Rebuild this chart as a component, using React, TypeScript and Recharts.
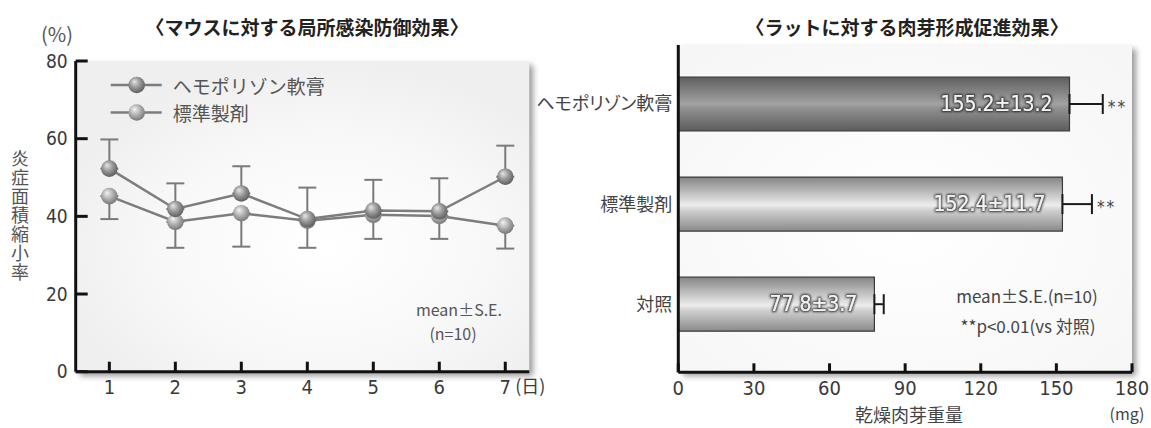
import React from 'react';
import {
  LineChart, Line, XAxis, YAxis, ErrorBar, BarChart, Bar, Cell, LabelList, CartesianGrid,
} from 'recharts';

// ---------- data: left chart ----------
const days = [1, 2, 3, 4, 5, 6, 7];
const hemoMean = [52.3, 41.9, 45.9, 39.3, 41.5, 41.3, 50.2];
const hemoSE = [7.5, 6.6, 7.0, 8.1, 7.9, 8.5, 8.0];
const stdMean = [45.2, 38.6, 40.8, 38.9, 40.4, 40.1, 37.6];
const stdSE = [5.9, 6.7, 8.6, 7.0, 6.2, 5.9, 5.9];
const seriesNames = ['ヘモポリゾン軟膏', '標準製剤'];
const yTicksL = [0, 20, 40, 60, 80];

// ---------- data: right chart ----------
const groups = ['ヘモポリゾン軟膏', '標準製剤', '対照'];
const weights = [155.2, 152.4, 77.8];
const weightSE = [13.2, 11.7, 3.7];
const signif = ['**', '**', ''];
const xTicksR = [0, 30, 60, 90, 120, 150, 180];

const lineData = days.map((d, i) => ({
  day: d,
  hemo: hemoMean[i],
  hemoErr: [0, hemoSE[i]],
  std: stdMean[i],
  stdErr: [stdSE[i], 0],
}));

const barData = groups.map((g, i) => ({
  name: g,
  value: weights[i],
  err: [0, weightSE[i]],
  se: weightSE[i],
  sig: signif[i],
}));

const NUM_FONT = "'Liberation Sans Narrow', 'Arial Narrow', 'DejaVu Sans Condensed', 'Liberation Sans', sans-serif";
const CJK_FONT = "'Noto Sans CJK JP', 'Noto Sans', sans-serif";
const barGrads = ['url(#barDark)', 'url(#barLight)', 'url(#barLight)'];

const DayTick = (props: any) => {
  const { x, y, payload } = props;
  const last = payload.value === days[days.length - 1];
  return (
    <g>
      <text x={x} y={y} dy="0.72em" textAnchor="middle" fontFamily={NUM_FONT} fontSize={20} fill="#3a3a3a">
        {payload.value}
      </text>
      {last && (
        <text x={x + 10} y={y} dy="0.72em" textAnchor="start" fontFamily={CJK_FONT} fontSize={18} fill="#3a3a3a">
          (日)
        </text>
      )}
    </g>
  );
};

const Dot = (grad: string) => (p: any) => {
  if (p.cx == null || p.cy == null) return <g key={p.index} />;
  return <circle key={p.index} cx={p.cx} cy={p.cy} r={8.3} fill={grad} />;
};

const ValueLabel = (p: any) => {
  const { x, y, width, height, index } = p;
  const v = weights[index];
  const e = weightSE[index];
  const endX = x + (width * (v + e)) / v;
  return (
    <g>
      <text x={x + width - 17} y={y + height / 2} dominantBaseline="central" textAnchor="end"
        fontFamily={NUM_FONT} fontSize={21} fill="#f4f4f4" filter="url(#glow)">
        {`${v.toFixed(1)}±${e.toFixed(1)}`}
      </text>
      {signif[index] && (
        <text x={endX + 5} y={y + height / 2 + 3} dominantBaseline="central" textAnchor="start"
          fontFamily={NUM_FONT} fontSize={17} fill="#444" letterSpacing={2}>
          {signif[index]}
        </text>
      )}
    </g>
  );
};

export default function App() {
  return (
    <div style={{ position: 'absolute', left: 0, top: 0, width: 1151, height: 428, background: '#fff', overflow: 'hidden' }}>
      <svg width={0} height={0} style={{ position: 'absolute' }}>
        <defs>
          <radialGradient id="sphereD" cx="0.45" cy="0.4" r="0.6" fx="0.35" fy="0.3">
            <stop offset="0" stopColor="#e6e6e6" />
            <stop offset="0.5" stopColor="#9a9a9a" />
            <stop offset="1" stopColor="#5e5e5e" />
          </radialGradient>
          <radialGradient id="sphereL" cx="0.45" cy="0.4" r="0.6" fx="0.35" fy="0.3">
            <stop offset="0" stopColor="#f4f4f4" />
            <stop offset="0.5" stopColor="#b4b4b4" />
            <stop offset="1" stopColor="#777777" />
          </radialGradient>
          <radialGradient id="bgL" cx="0.55" cy="0.6" r="0.6">
            <stop offset="0" stopColor="#ffffff" />
            <stop offset="0.6" stopColor="#f8f8f8" />
            <stop offset="1" stopColor="#efefef" />
          </radialGradient>
          <radialGradient id="bgR" cx="0.5" cy="0.55" r="0.7">
            <stop offset="0" stopColor="#ffffff" />
            <stop offset="1" stopColor="#f6f6f6" />
          </radialGradient>
          <linearGradient id="barDark" x1="0" y1="0" x2="0" y2="1">
            <stop offset="0" stopColor="#5e5e5e" />
            <stop offset="0.5" stopColor="#a2a2a2" />
            <stop offset="0.6" stopColor="#8e8e8e" />
            <stop offset="1" stopColor="#5c5c5c" />
          </linearGradient>
          <linearGradient id="barLight" x1="0" y1="0" x2="0" y2="1">
            <stop offset="0" stopColor="#858585" />
            <stop offset="0.52" stopColor="#ededed" />
            <stop offset="0.62" stopColor="#cfcfcf" />
            <stop offset="1" stopColor="#8a8a8a" />
          </linearGradient>
          <filter id="glow" x="-20%" y="-50%" width="140%" height="200%">
            <feMorphology operator="dilate" radius="1" in="SourceAlpha" result="d" />
            <feGaussianBlur in="d" stdDeviation="1.3" result="b" />
            <feFlood floodColor="#1a1a1a" floodOpacity="0.85" />
            <feComposite in2="b" operator="in" result="s" />
            <feMerge>
              <feMergeNode in="s" />
              <feMergeNode in="SourceGraphic" />
            </feMerge>
          </filter>
        </defs>
      </svg>

      {/* panel shadows */}
      <div style={{ position: 'absolute', left: 76, top: 61, width: 453, height: 311, background: '#eee', boxShadow: '4px 4px 6px rgba(0,0,0,0.4)' }} />
      <div style={{ position: 'absolute', left: 679, top: 45, width: 453, height: 327, background: '#f6f6f6', boxShadow: '4px 4px 6px rgba(0,0,0,0.4)' }} />

      {/* left chart */}
      <div style={{ position: 'absolute', left: 0, top: 0 }}>
        <LineChart width={560} height={428} data={lineData} margin={{ top: 61, right: 30.7, bottom: 26.3, left: 15.7 }}>
          <CartesianGrid horizontal={false} vertical={false} fill="url(#bgL)" />
          <XAxis
            dataKey="day" type="number" domain={[0.49, 7.364]} ticks={days} allowDataOverflow
            height={30} tickSize={-10} tickMargin={18}
            axisLine={{ stroke: '#111', strokeWidth: 3 }} tickLine={{ stroke: '#111', strokeWidth: 3 }}
            tick={<DayTick />}
          />
          <YAxis
            type="number" domain={[0, 80]} ticks={yTicksL} width={60} tickSize={-12} tickMargin={20}
            axisLine={{ stroke: '#111', strokeWidth: 3 }} tickLine={{ stroke: '#111', strokeWidth: 3 }}
            tick={{ fontFamily: NUM_FONT, fontSize: 19, fill: '#3a3a3a' }}
          />
          <Line dataKey="std" name={seriesNames[1]} stroke="#7d7d7d" strokeWidth={2.5} isAnimationActive={false}
            dot={Dot('url(#sphereL)')} activeDot={false}>
            <ErrorBar dataKey="stdErr" direction="y" width={9} stroke="#7a7a7a" strokeWidth={2} isAnimationActive={false} />
          </Line>
          <Line dataKey="hemo" name={seriesNames[0]} stroke="#7d7d7d" strokeWidth={2.5} isAnimationActive={false}
            dot={Dot('url(#sphereD)')} activeDot={false}>
            <ErrorBar dataKey="hemoErr" direction="y" width={9} stroke="#7a7a7a" strokeWidth={2} isAnimationActive={false} />
          </Line>
        </LineChart>
      </div>

      {/* right chart */}
      <div style={{ position: 'absolute', left: 500, top: 0 }}>
        <BarChart width={651} height={428} data={barData} layout="vertical" margin={{ top: 45, right: 19, bottom: 25.7, left: 60 }}>
          <CartesianGrid horizontal={false} vertical={false} fill="url(#bgR)" />
          <XAxis
            type="number" domain={[0, 180]} ticks={xTicksR} height={30} tickSize={-9} tickMargin={17}
            axisLine={{ stroke: '#111', strokeWidth: 3 }} tickLine={{ stroke: '#111', strokeWidth: 3 }}
            tick={{ fontFamily: NUM_FONT, fontSize: 20, fill: '#3a3a3a' }}
          />
          <YAxis
            type="category" dataKey="name" width={118.3} padding={{ top: 9, bottom: 18 }}
            tickLine={false} tickSize={0} tickMargin={6}
            axisLine={{ stroke: '#111', strokeWidth: 3 }}
            tick={{ fontFamily: CJK_FONT, fontSize: 18, fill: '#444', style: { fontFeatureSettings: '"palt"' } }}
          />
          <Bar dataKey="value" barSize={54} stroke="#3a3a3a" strokeWidth={1.2} isAnimationActive={false}>
            {barData.map((d, i) => (
              <Cell key={d.name} fill={barGrads[i]} />
            ))}
            <ErrorBar dataKey="err" direction="x" width={10} stroke="#1a1a1a" strokeWidth={2} isAnimationActive={false} />
            <LabelList dataKey="value" content={<ValueLabel />} />
          </Bar>
        </BarChart>
      </div>

      {/* overlay texts */}
      <svg width={1151} height={428} style={{ position: 'absolute', left: 0, top: 0, pointerEvents: 'none' }}>
        <text x={307} y={26} textAnchor="middle" dominantBaseline="central" fontFamily={CJK_FONT} fontWeight={700} fontSize={19} fill="#222">
          〈マウスに対する局所感染防御効果〉
        </text>
        <text x={907} y={26} textAnchor="middle" dominantBaseline="central" fontFamily={CJK_FONT} fontWeight={700} fontSize={19} fill="#222">
          〈ラットに対する肉芽形成促進効果〉
        </text>
        <text x={57} y={33} textAnchor="middle" dominantBaseline="central" fontFamily={CJK_FONT} fontSize={20} fill="#555">(%)</text>
        <text x={20} y={216} textAnchor="middle" fontFamily={CJK_FONT} fontSize={18} fill="#555"
          style={{ writingMode: 'vertical-rl' as any }} letterSpacing={1}>
          炎症面積縮小率
        </text>

        {/* legend */}
        {seriesNames.map((n, i) => {
          const cy = i === 0 ? 85 : 112.5;
          return (
            <g key={n}>
              <line x1={110.7} x2={161.7} y1={cy} y2={cy} stroke="#7d7d7d" strokeWidth={2.5} />
              <circle cx={136.7} cy={cy} r={8.3} fill={i === 0 ? 'url(#sphereD)' : 'url(#sphereL)'} />
              <text x={172.7} y={cy} dominantBaseline="central" fontFamily={CJK_FONT} fontSize={19} fill="#555">{n}</text>
            </g>
          );
        })}

        <text x={502} y={309} textAnchor="end" dominantBaseline="central" fontFamily={CJK_FONT} fontSize={16} fill="#555">mean±S.E.</text>
        <text x={453} y={333} textAnchor="middle" dominantBaseline="central" fontFamily={CJK_FONT} fontSize={16} fill="#555">(n=10)</text>

        <text x={1027} y={295} textAnchor="middle" dominantBaseline="central" fontFamily={CJK_FONT} fontSize={17} fill="#444">mean±S.E.(n=10)</text>
        <text x={1028} y={325} textAnchor="middle" dominantBaseline="central" fontFamily={CJK_FONT} fontSize={17} fill="#444">**p&lt;0.01(vs 対照)</text>

        <text x={1127} y={413} textAnchor="middle" dominantBaseline="central" fontFamily={CJK_FONT} fontSize={16} fill="#444">(mg)</text>
        <text x={909} y={414} textAnchor="middle" dominantBaseline="central" fontFamily={CJK_FONT} fontSize={18} fill="#444">乾燥肉芽重量</text>
      </svg>
    </div>
  );
}
